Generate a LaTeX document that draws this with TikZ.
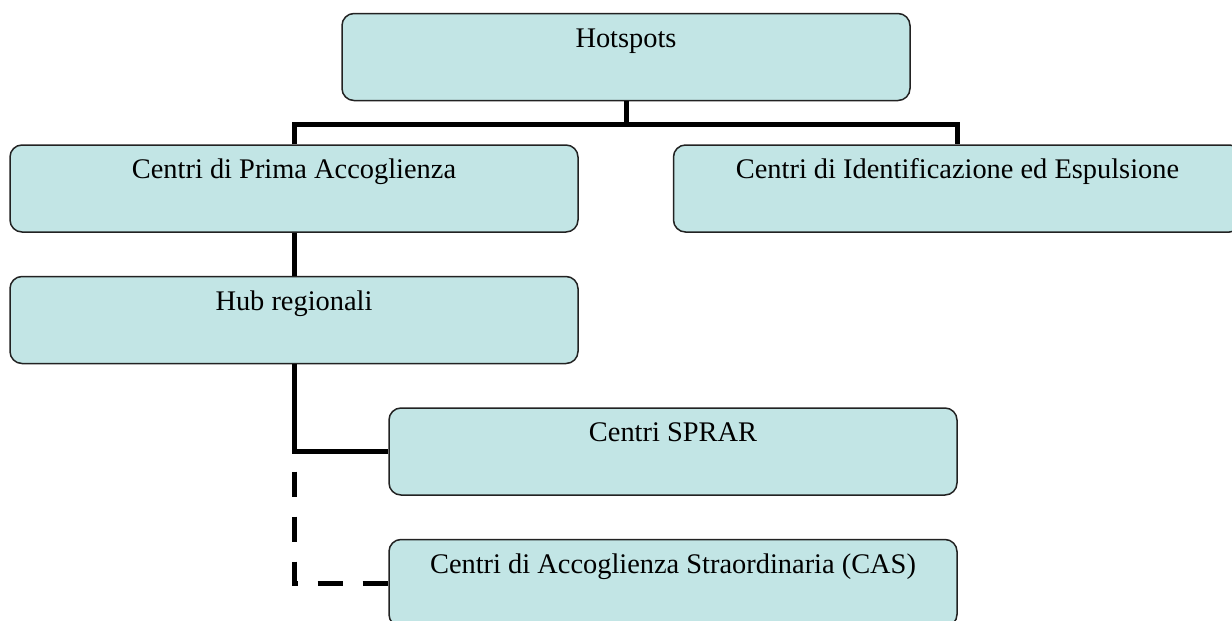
\documentclass[tikz,border=0pt]{standalone}
\usepackage{fontspec}
\setmainfont{Liberation Serif}
\usetikzlibrary{positioning}
\definecolor{acqua}{HTML}{C2E5E5}
\definecolor{bordo}{HTML}{222222}
\tikzset{
  centro/.style={rectangle, rounded corners=6pt, draw=bordo, fill=acqua, line width=0.75pt,
    minimum width=284pt, minimum height=43.5pt, inner sep=0pt,
    text height=10pt, text depth=20pt, align=center,
    font=\fontsize{14.2}{17}\selectfont},
  liga/.style={draw=black, line width=2.5pt},
  tratteggio/.style={liga, dash pattern=on 12.5pt off 10pt, dash phase=12.5pt},
}

\begin{document}
\begin{tikzpicture}[x=0.5pt, y=-0.5pt, node distance=21.5pt and 47pt]
    \useasboundingbox (0,0) rectangle (1232,621);
    \clip (0,0) rectangle (1232,621);
    \node[centro] (prima) at (294,188.5) {Centri di Prima Accoglienza};
    \node[centro, above=of prima, xshift=166pt] (hot) {Hotspots};
    \node[centro, right=of prima] (cie) {Centri di Identificazione ed Espulsione};
    \node[centro, below=of prima] (hub) {Hub regionali};
    \node[centro, below=of hub, xshift=189.5pt] (sprar) {Centri SPRAR};
    \node[centro, below=of sprar] (cas) {Centri di Accoglienza Straordinaria (CAS)};
    \draw[liga] (hot.south) -- ++(0,-11.5pt) coordinate (snodo);
    \draw[liga] (prima.north) |- (snodo) -| (cie.north);
    \draw[liga] (prima.south) -- (hub.north);
    \draw[liga] (hub.south) |- (sprar.west);
    \coordinate (gomito) at (hub.south |- sprar.west);
    \draw[tratteggio] (gomito) |- (cas.west);
  \end{tikzpicture}
\end{document}
